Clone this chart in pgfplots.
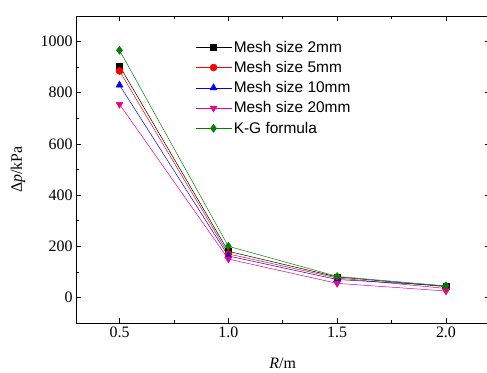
\documentclass[border=0pt]{standalone}
\usepackage{fontspec}
\setmainfont{Liberation Serif}
\newfontfamily\arialfont{Liberation Sans}
\usepackage{pgfplots}
\pgfplotsset{compat=1.18}
\definecolor{kgreen}{RGB}{0,128,0}
\begin{document}
\begin{tikzpicture}
\begin{axis}[
  at={(0,0)}, anchor=south west,
  scale only axis, width=413.5bp, height=307bp,
  xmin=0.3, xmax=2.2, ymin=-100, ymax=1100,
  xtick={0.5,1.0,1.5,2.0}, xticklabels={0.5,1.0,1.5,2.0},
  ytick={0,200,400,600,800,1000},
  minor tick num=1,
  tick align=inside,
  major tick length=5bp, minor tick length=3bp,
  axis line style={line width=0.9pt},
  every tick/.style={line width=0.6pt, black},
  ticklabel style={font=\fontsize{16}{18}\selectfont},
  /pgf/number format/assume math mode=true,
  /pgf/number format/set thousands separator={},
  xlabel={\textit{R}/m},
  ylabel={Δ\textit{p}/kPa},
  label style={font=\fontsize{16}{18}\selectfont},
  xlabel style={at={(axis description cs:0.5,-0.13)}, anchor=center},
  ylabel style={at={(axis description cs:-0.14,0.5)}, anchor=center},
  legend style={at={(axis description cs:0.288,0.926)}, anchor=north west,
    draw=none, fill=none, font=\arialfont\fontsize{15.5}{18}\selectfont,
    row sep=3.6bp, inner sep=0pt},
  legend cell align=left,
  legend image code/.code={\draw[mark repeat=2,mark phase=2] plot coordinates {(0bp,0bp)(18bp,0bp)(36bp,0bp)};},
  every axis plot/.append style={line width=0.5pt},
]
\addplot[black, mark=square*, mark size=3pt, mark options={fill=black}] coordinates {(0.5,905)(1.0,180)(1.5,80)(2.0,42)};
\addlegendentry{Mesh size 2mm}
\addplot[red, mark=*, mark size=3.5pt, mark options={fill=red}] coordinates {(0.5,885)(1.0,170)(1.5,76)(2.0,35)};
\addlegendentry{Mesh size 5mm}
\addplot[blue, mark=triangle*, mark size=4pt, mark options={fill=blue}] coordinates {(0.5,830)(1.0,162)(1.5,70)(2.0,45)};
\addlegendentry{Mesh size 10mm}
\addplot[magenta, mark=triangle*, mark size=4pt, mark options={fill=magenta, rotate=180}] coordinates {(0.5,755)(1.0,150)(1.5,55)(2.0,25)};
\addlegendentry{Mesh size 20mm}
\addplot[kgreen, mark=diamond*, mark size=4pt, mark options={fill=kgreen}] coordinates {(0.5,966)(1.0,200)(1.5,82)(2.0,45)};
\addlegendentry{K-G formula}
\end{axis}
\pgfresetboundingbox
\useasboundingbox (-76bp,-50bp) rectangle (411bp,323bp);
\end{tikzpicture}
\end{document}
